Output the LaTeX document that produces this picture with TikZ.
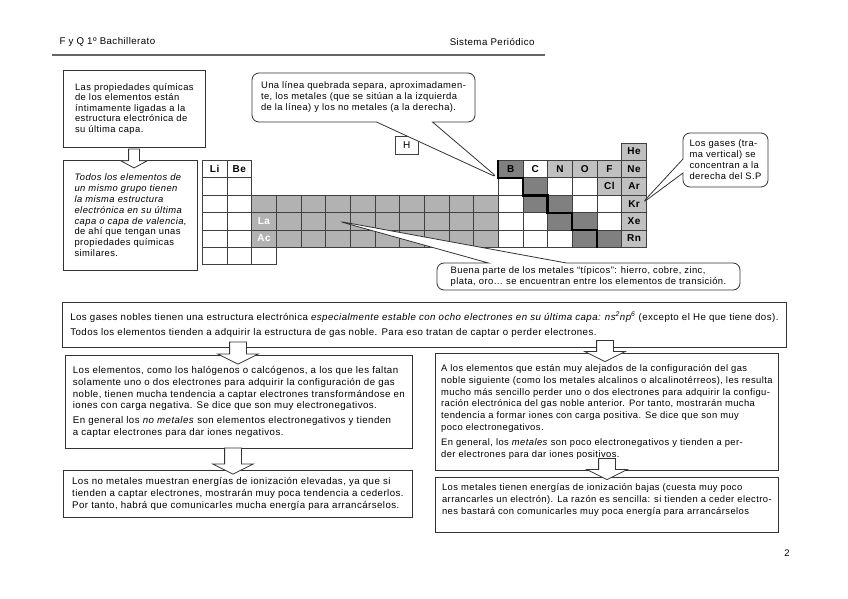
\documentclass[tikz,border=0pt]{standalone}
\usepackage{fontspec}
\setmainfont{Liberation Sans}[LetterSpace=4.5]
\usetikzlibrary{shapes.callouts, shapes.arrows, positioning, calc}
\definecolor{cellgrey}{RGB}{192,192,192}
\definecolor{transgrey}{RGB}{178,178,178}
\definecolor{darkgrey}{RGB}{128,128,128}
\tikzset{
    base/.style={draw=black!80, line width=0.8pt, fill=white, align=left, inner sep=0pt, font=\fontsize{9.7}{11.8}\selectfont},
    textbox/.style={base, rectangle, anchor=north west},
    note/.style={base, rectangle callout, rounded corners=7pt, font=\fontsize{9.4}{11}\selectfont},
    cell/.style={draw=black!75, line width=0.6pt, fill=white, minimum width=24.67pt, minimum height=17.4pt, inner sep=0pt, anchor=north west, font=\fontsize{10}{10}\selectfont\bfseries},
    hollow/.style={single arrow, draw=black!80, line width=0.8pt, fill=white, rotate=-90, inner xsep=0pt, inner ysep=8pt, single arrow head indent=0pt, minimum width=40pt, single arrow head extend=12pt, single arrow tip angle=127},
    stair/.style={line width=2.4pt, line join=miter}
}

\begin{document}
\begin{tikzpicture}[x=1pt, y=-1pt]
    \useasboundingbox (0,0) rectangle (848,599);

    % header
    \node (course) [anchor=west, font=\fontsize{9.7}{11}\selectfont] at (56,42) {F y Q 1º Bachillerato};
    \node (topic) [anchor=east, font=\fontsize{9.7}{11}\selectfont] at (538,42) {Sistema Periódico};
    \draw [black!60, line width=1.3pt] (52,55) -- (545,55);
    \node (page) [font=\fontsize{9.5}{11}\selectfont] at (787,553) {2};

    % boxes on the left
    \node (props) [textbox, minimum width=142pt, minimum height=77pt, font=\fontsize{9.4}{10.6}\selectfont] at (63,70)
        {Las propiedades químicas\\de los elementos están\\íntimamente ligadas a la\\estructura electrónica de\\su última capa.};
    \node (group) [textbox, minimum width=134pt, minimum height=110pt, font=\fontsize{9.4}{10.8}\selectfont] at (63,160)
        {\textit{Todos los elementos de}\\\textit{un mismo grupo tienen}\\\textit{la misma estructura}\\\textit{electrónica en su última}\\\textit{capa o capa de valencia},\\de ahí que tengan unas\\propiedades químicas\\similares.};
    \node (a0) [hollow, inner ysep=5pt, minimum width=26pt, single arrow head extend=8pt, single arrow tip angle=123, minimum height=19pt] at (134,157) {};

    % periodic table
    \foreach \r/\c/\f/\t in {
        1/18/cellgrey/He,
        2/1/white/Li, 2/2/white/Be, 2/13/darkgrey/B, 2/14/white/C, 2/15/cellgrey/N, 2/16/cellgrey/O, 2/17/cellgrey/F, 2/18/cellgrey/Ne,
        3/1/white/{}, 3/2/white/{}, 3/13/white/{}, 3/14/darkgrey/{}, 3/15/white/{}, 3/16/white/{}, 3/17/cellgrey/Cl, 3/18/cellgrey/Ar,
        4/1/white/{}, 4/2/white/{}, 4/13/white/{}, 4/14/darkgrey/{}, 4/15/darkgrey/{}, 4/16/white/{}, 4/17/white/{}, 4/18/cellgrey/Kr,
        5/1/white/{}, 5/2/white/{}, 5/13/white/{}, 5/14/white/{}, 5/15/darkgrey/{}, 5/16/darkgrey/{}, 5/17/white/{}, 5/18/cellgrey/Xe,
        6/1/white/{}, 6/2/white/{}, 6/13/white/{}, 6/14/white/{}, 6/15/white/{}, 6/16/darkgrey/{}, 6/17/darkgrey/{}, 6/18/cellgrey/Rn,
        7/1/white/{}, 7/2/white/{}, 7/3/white/{},
        4/3/transgrey/{}, 5/3/transgrey/{\textcolor{white}{La}}, 6/3/transgrey/{\textcolor{white}{Ac}}}
        \node (c-\r-\c) [cell, fill=\f] at ({202+(\c-1)*24.67}, {142.5+(\r-1)*17.4}) {\t};
    \foreach \r in {4,5,6}
        \foreach \c in {4,...,12}
            \node (c-\r-\c) [cell, fill=transgrey] at ({202+(\c-1)*24.67}, {142.5+(\r-1)*17.4}) {};
    \node (hyd) [cell, minimum width=23pt, minimum height=18pt, font=\fontsize{10}{10}\selectfont] at (395,136) {H};

    \draw [stair] (c-2-13.north west) -- (c-2-13.south west) -- (c-2-14.south west) -- (c-3-14.south west)
        -- (c-3-15.south west) -- (c-4-15.south west) -- (c-4-16.south west) -- (c-5-16.south west)
        -- (c-5-17.south west) -- (c-6-17.south west);

    % callouts
    \node (line) [note, minimum width=223pt, minimum height=49pt, callout absolute pointer={(c-2-13.south west)}, callout pointer width=56pt] at (363.5,97.5)
        {Una línea quebrada separa, aproximadamen-\\te, los metales (que se sitúan a la izquierda\\de la línea) y los no metales (a la derecha).};
    \node (gases) [note, minimum width=85pt, minimum height=54pt, callout absolute pointer={($(c-4-18.east)+(-5,0)$)}, callout pointer width=14pt] at (725.5,160)
        {Los gases (tra-\\ma vertical) se\\concentran a la\\derecha del S.P};
    \node (metals) [note, minimum width=303pt, minimum height=27pt, callout absolute pointer={(c-5-6.center)}, callout pointer width=78pt] at (588.5,276.5)
        {Buena parte de los metales “típicos”: hierro, cobre, zinc,\\plata, oro… se encuentran entre los elementos de transición.};

    % lower part
    \node (noble) [textbox, minimum width=724pt, minimum height=45pt, font=\fontsize{9.7}{11.8}\selectfont] at (62,302)
        {Los gases nobles tienen una estructura electrónica \textit{especialmente estable con ocho electrones en su última capa: ns\textsuperscript{2}np\textsuperscript{6}} (excepto el He que tiene dos).\\[4pt]Todos los elementos tienden a adquirir la estructura de gas noble. Para eso tratan de captar o perder electrones.};
    \node (gain) [textbox, minimum width=347pt, minimum height=93pt] at (65,355)
        {Los elementos, como los halógenos o calcógenos, a los que les faltan\\solamente uno o dos electrones para adquirir la configuración de gas\\noble, tienen mucha tendencia a captar electrones transformándose en\\iones con carga negativa. Se dice que son muy electronegativos.\\[3pt]En general los \textit{no metales} son elementos electronegativos y tienden\\a captar electrones para dar iones negativos.};
    \node (ionnm) [textbox, minimum width=349pt, minimum height=47pt] at (63,470)
        {Los no metales muestran energías de ionización elevadas, ya que si\\tienden a captar electrones, mostrarán muy poca tendencia a cederlos.\\Por tanto, habrá que comunicarles mucha energía para arrancárselos.};
    \node (lose) [textbox, minimum width=343pt, minimum height=117pt, font=\fontsize{9.4}{11.8}\selectfont] at (435,353)
        {A los elementos que están muy alejados de la configuración del gas\\noble siguiente (como los metales alcalinos o alcalinotérreos), les resulta\\mucho más sencillo perder uno o dos electrones para adquirir la configu-\\ración electrónica del gas noble anterior. Por tanto, mostrarán mucha\\tendencia  a formar iones con carga positiva. Se dice que son muy\\poco electronegativos.\\[3pt]En general, los \textit{metales} son poco electronegativos y tienden a per-\\der electrones para dar iones positivos.};
    \node (ionm) [textbox, minimum width=343pt, minimum height=55pt, font=\fontsize{9.4}{11.8}\selectfont] at (435,477)
        {Los metales tienen energías de ionización bajas (cuesta muy poco\\arrancarles un electrón). La razón es sencilla: si tienden a ceder electro-\\nes bastará con comunicarles muy poca energía para arrancárselos\\~};

    \node (a1) [hollow, minimum height=22pt] at (238,351) {};
    \node (a2) [hollow, minimum height=26pt] at (233,459) {};
    \node (a3) [hollow, minimum height=21pt] at (605,349) {};
    \node (a4) [hollow, minimum height=21pt] at (607,467) {};
\end{tikzpicture}
\end{document}
